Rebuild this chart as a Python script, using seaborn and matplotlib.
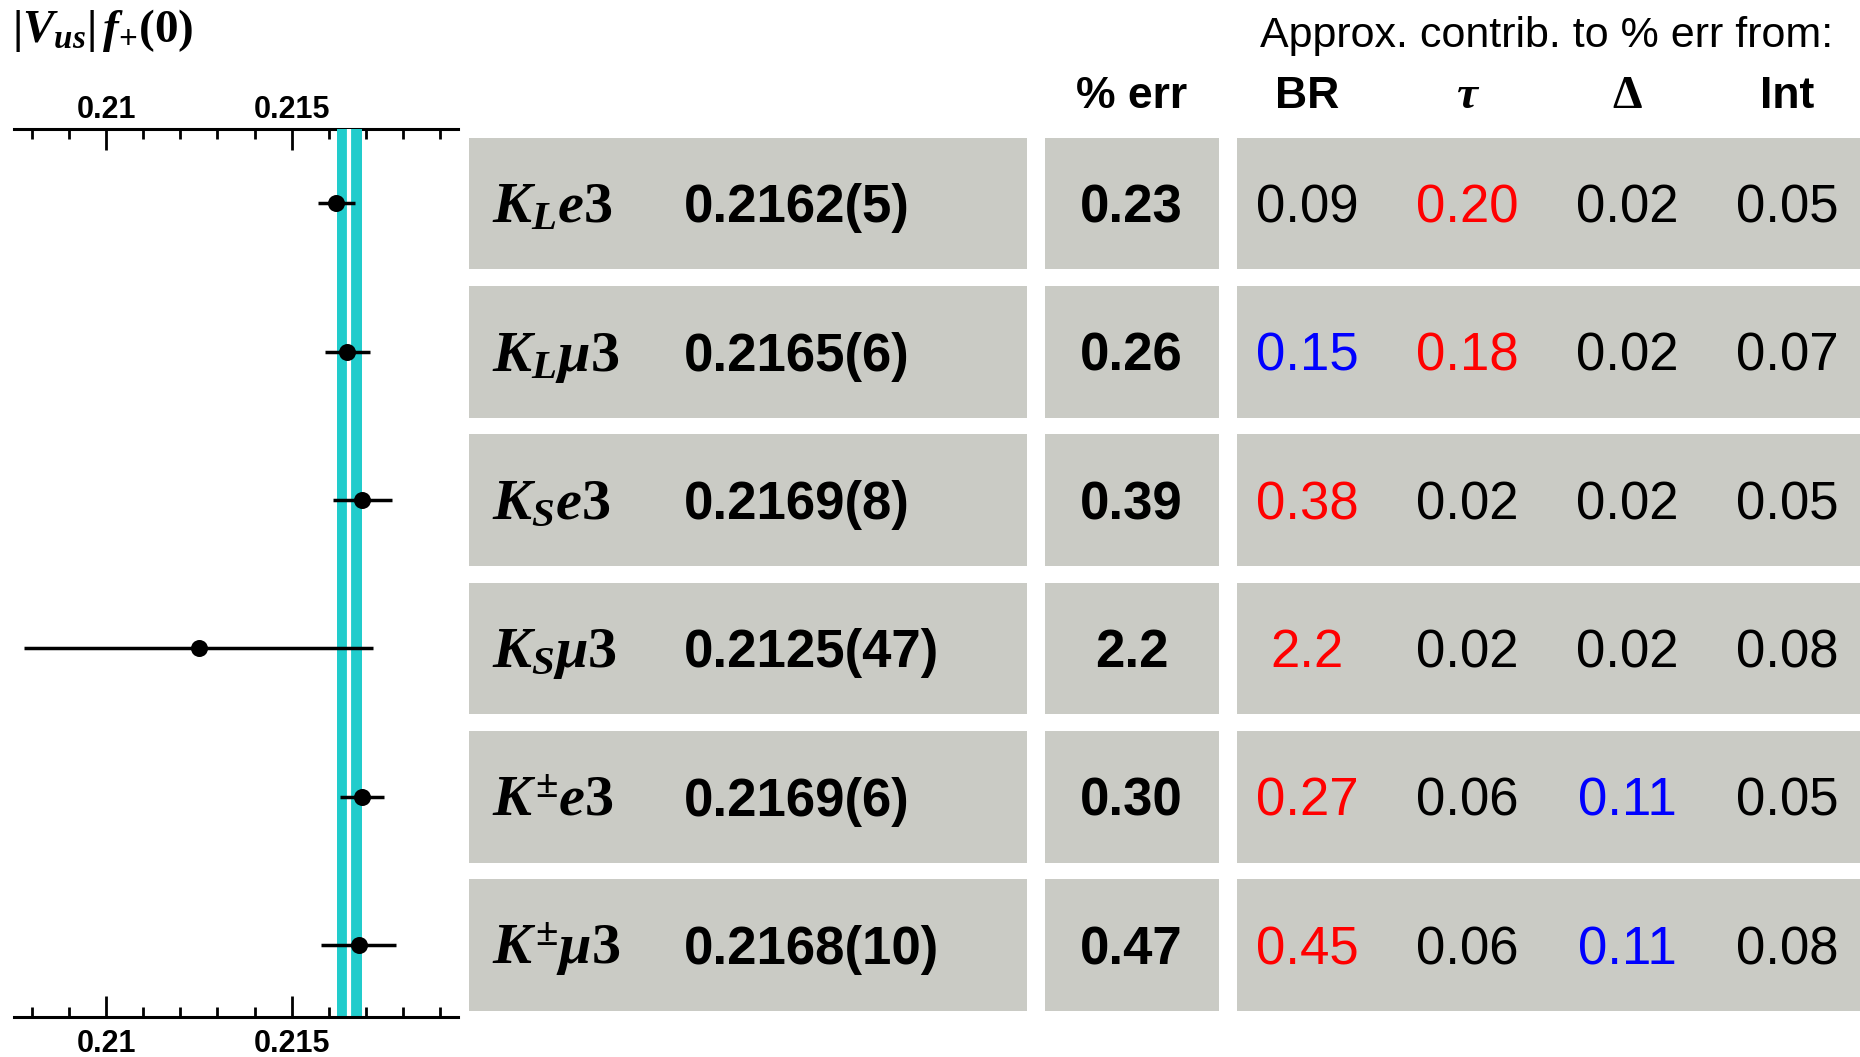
# |Vus| f+(0) по каналам распада каонов: график слева, таблица справа
import pandas as pd
import matplotlib
matplotlib.use("Agg")
from matplotlib import pyplot as plt
from matplotlib.patches import Rectangle
from matplotlib.ticker import MultipleLocator, FuncFormatter
import seaborn as sns

# Данные
modes = [r'$K_{L}\mathit{e3}$', r'$K_{L}\mathit{\mu 3}$', r'$K_{S}\mathit{e3}$',
         r'$K_{S}\mathit{\mu 3}$', r'$K^{\pm}\mathit{e3}$', r'$K^{\pm}\mathit{\mu 3}$']
vus = [0.2162, 0.2165, 0.2169, 0.2125, 0.2169, 0.2168]
vus_err = [0.0005, 0.0006, 0.0008, 0.0047, 0.0006, 0.0010]
vus_text = ['0.2162(5)', '0.2165(6)', '0.2169(8)', '0.2125(47)', '0.2169(6)', '0.2168(10)']
pct_err = ['0.23', '0.26', '0.39', '2.2', '0.30', '0.47']
br = ['0.09', '0.15', '0.38', '2.2', '0.27', '0.45']
tau = ['0.20', '0.18', '0.02', '0.02', '0.06', '0.06']
delta = ['0.02', '0.02', '0.02', '0.02', '0.11', '0.11']
integ = ['0.05', '0.07', '0.05', '0.08', '0.05', '0.08']
avg = 0.21655
avg_err = 0.00034
x_range = (0.20752, 0.21948)

# Цвета чисел в таблице
RED, BLUE, BLACK = '#ff0000', '#0000ff', '#000000'
br_colors = [BLACK, BLUE, RED, RED, RED, RED]
tau_colors = [RED, RED, BLACK, BLACK, BLACK, BLACK]
delta_colors = [BLACK, BLACK, BLACK, BLACK, BLUE, BLUE]
int_colors = [BLACK] * 6

GRAY = '#cacbc5'
CYAN = '#21cccc'

W, H = 1860, 1057

sns.set_theme(style='white')
plt.rcParams['font.family'] = ['Liberation Sans', 'DejaVu Sans']
plt.rcParams['text.color'] = 'black'
plt.rcParams['xtick.color'] = 'black'
plt.rcParams['xtick.labelcolor'] = 'black'
plt.rcParams['mathtext.fontset'] = 'custom'
plt.rcParams['mathtext.rm'] = 'Liberation Serif:bold'
plt.rcParams['mathtext.it'] = 'Liberation Serif:italic:bold'
plt.rcParams['mathtext.bf'] = 'Liberation Serif:bold'

df = pd.DataFrame({'vus': vus, 'err': vus_err, 'row': range(len(vus))})

fig = plt.figure(figsize=(W / 100, H / 100), dpi=100)


def fx(x):
    return x / W


def fy(y):
    return 1 - y / H


def tick_label(v, pos):
    # подписи только внутри диапазона оси
    return f'{v:g}' if x_range[0] < v < x_range[1] else ''


def style_ticks(axis_obj, pad, **where):
    # деления внутрь: крупные через 0.005, мелкие через 0.001
    axis_obj.xaxis.set_major_locator(MultipleLocator(0.005))
    axis_obj.xaxis.set_minor_locator(MultipleLocator(0.001))
    axis_obj.xaxis.set_major_formatter(FuncFormatter(tick_label))
    axis_obj.tick_params(axis='x', which='both', direction='in', width=2,
                         color='black', **where)
    axis_obj.tick_params(axis='x', which='major', length=15, labelsize=22, pad=pad)
    axis_obj.tick_params(axis='x', which='minor', length=7.5)
    for lab in axis_obj.get_xticklabels(which='both'):
        lab.set_fontweight('bold')


# Левая панель
ax = fig.add_axes([fx(14), fy(1017), fx(458 - 14), (1017 - 129) / H])
ax.axvspan(avg - avg_err, avg + avg_err, color=CYAN, lw=0, zorder=1)
ax.axvline(avg, color='white', lw=3, zorder=2)
ax.errorbar(df['vus'], df['row'], xerr=df['err'], fmt='none',
            ecolor='black', elinewidth=2.5, zorder=3)
sns.scatterplot(data=df, x='vus', y='row', ax=ax, color='black', s=150,
                edgecolor='black', linewidth=0, zorder=4)
ax.set_xlim(*x_range)
ax.set_ylim(5.485, -0.502)
ax.set_xlabel('')
ax.set_ylabel('')
ax.set_yticks([])
style_ticks(ax, pad=9, bottom=True, labelbottom=True, top=False, labeltop=False)
for side in ['left', 'right', 'top']:
    ax.spines[side].set_visible(False)
ax.spines['bottom'].set_linewidth(2.2)
ax.spines['bottom'].set_color('black')

# верхняя ось с теми же делениями
top = ax.secondary_xaxis('top')
style_ticks(top, pad=3, top=True, labeltop=True)
top.spines['top'].set_linewidth(2.2)
top.spines['top'].set_color('black')

# Таблица справа, ось Y общая с графиком
tx = fig.add_axes([fx(468), fy(1017), fx(W - 468), (1017 - 129) / H], sharey=ax)
tx.set_xlim(468, W)
tx.axis('off')

boxes = [(468.5, 1027.2), (1045, 1219.4), (1237.2, W + 5)]
half = 0.444
off = 0.128  # смещение базовой линии от центра строки
for i in range(len(vus)):
    for x0, x1 in boxes:
        tx.add_patch(Rectangle((x0, i - half), x1 - x0, 2 * half,
                               facecolor=GRAY, edgecolor='none', clip_on=False))
    tx.text(492, i + off, modes[i], fontsize=42, ha='left', va='baseline')
    tx.text(684, i + off, vus_text[i], fontsize=38, fontweight='bold',
            ha='left', va='baseline')
    tx.text(1131.6, i + off, pct_err[i], fontsize=38, fontweight='bold',
            ha='center', va='baseline')
    for xc, vals, cols in [(1307, br, br_colors), (1467, tau, tau_colors),
                           (1627.5, delta, delta_colors), (1787.6, integ, int_colors)]:
        tx.text(xc, i + off, vals[i], fontsize=38, color=cols[i],
                ha='center', va='baseline')

# Заголовки
fig.text(fx(12), fy(42), r'$|V_{us}|\,f_{+}(0)$', fontsize=34,
         ha='left', va='baseline')
fig.text(fx(1833), fy(47), 'Approx. contrib. to % err from:', fontsize=31,
         ha='right', va='baseline')
fig.text(fx(1131.6), fy(108), '% err', fontsize=32, fontweight='bold',
         ha='center', va='baseline')
fig.text(fx(1307), fy(108), 'BR', fontsize=32, fontweight='bold',
         ha='center', va='baseline')
fig.text(fx(1467), fy(108), 'τ', fontsize=34, fontweight='bold', style='italic',
         family=['Liberation Serif', 'DejaVu Serif'], ha='center', va='baseline')
fig.text(fx(1627.5), fy(108), 'Δ', fontsize=34, fontweight='bold',
         family=['Liberation Serif', 'DejaVu Serif'], ha='center', va='baseline')
fig.text(fx(1787.6), fy(108), 'Int', fontsize=32, fontweight='bold',
         ha='center', va='baseline')

fig.savefig('out.png', dpi=100)
